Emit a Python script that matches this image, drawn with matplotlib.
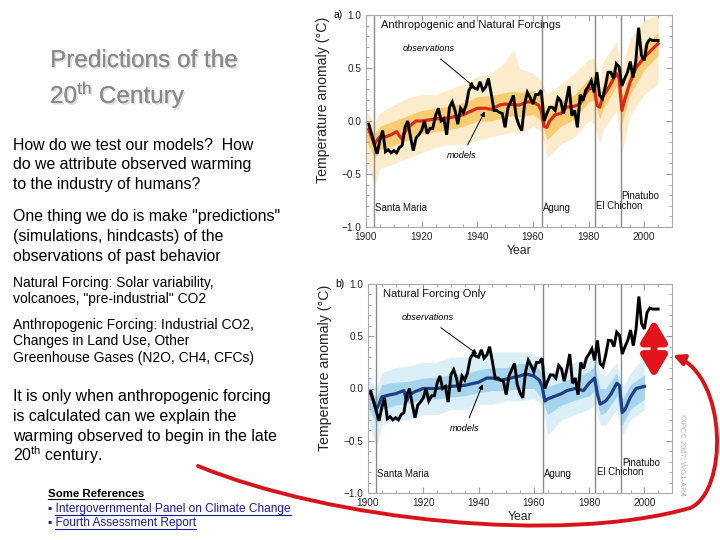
import matplotlib
matplotlib.use("Agg")
import matplotlib.pyplot as plt
import matplotlib.patheffects as pe
from matplotlib.patches import FancyArrowPatch
from matplotlib.path import Path
from matplotlib.ticker import MultipleLocator

plt.rcParams['font.family'] = ['Liberation Sans', 'DejaVu Sans']
plt.rcParams['mathtext.fontset'] = 'custom'
plt.rcParams['mathtext.rm'] = 'Liberation Sans'
plt.rcParams['mathtext.it'] = 'Liberation Sans:italic'

# ---------------- data ----------------
obs_years = list(range(1901, 2006))
obs_vals = [-0.03, -0.12, -0.22, -0.31, -0.18, -0.09, -0.29, -0.27, -0.30, -0.28,
            -0.30, -0.25, -0.23, -0.06, 0.00, -0.15, -0.28, -0.16, -0.13, -0.09,
            0.00, -0.12, -0.07, -0.07, 0.05, 0.12, 0.00, 0.02, -0.13, 0.13,
            0.18, 0.10, -0.03, 0.12, 0.08, 0.15, 0.29, 0.33, 0.31, 0.30,
            0.37, 0.29, 0.32, 0.40, 0.26, 0.10, 0.10, 0.08, 0.07, -0.06,
            0.12, 0.18, 0.24, 0.04, -0.04, -0.09, 0.16, 0.27, 0.22, 0.16,
            0.25, 0.25, 0.29, 0.00, 0.07, 0.13, 0.13, 0.10, 0.22, 0.19,
            0.07, 0.19, 0.33, 0.05, 0.10, -0.06, 0.25, 0.19, 0.29, 0.33,
            0.38, 0.27, 0.46, 0.24, 0.21, 0.32, 0.46, 0.46, 0.40, 0.54,
            0.51, 0.33, 0.40, 0.46, 0.56, 0.41, 0.57, 0.88, 0.62, 0.57,
            0.73, 0.77, 0.76, 0.76, 0.76]

mean_a_years = [1901, 1902, 1903, 1904, 1905, 1907, 1909, 1911, 1912, 1913, 1914, 1916,
                1918, 1920, 1925, 1930, 1935, 1940, 1943, 1945, 1948, 1950, 1955, 1958,
                1960, 1962, 1963, 1964, 1965, 1966, 1968, 1970, 1972, 1975, 1977, 1978,
                1980, 1982, 1983, 1984, 1985, 1988, 1990, 1991, 1992, 1993, 1995, 1997,
                2000, 2003, 2005]
mean_a_vals = [-0.08, -0.15, -0.22, -0.18, -0.15, -0.15, -0.13, -0.10, -0.14, -0.17, -0.10,
               -0.04, 0.00, 0.00, 0.02, 0.03, 0.06, 0.12, 0.12, 0.11, 0.15, 0.16, 0.15,
               0.18, 0.18, 0.15, 0.10, -0.05, -0.06, 0.00, 0.06, 0.07, 0.13, 0.14, 0.16,
               0.22, 0.30, 0.32, 0.15, 0.13, 0.22, 0.35, 0.45, 0.40, 0.10, 0.20, 0.37,
               0.50, 0.60, 0.68, 0.73]

band_a_years = [1900, 1903, 1905, 1910, 1915, 1920, 1925, 1930, 1935, 1940, 1945, 1950,
                1953, 1955, 1960, 1963, 1965, 1970, 1975, 1980, 1982, 1984, 1985, 1990,
                1992, 1995, 2000, 2005]
band_a_hi = [0.10, -0.02, 0.08, 0.15, 0.22, 0.25, 0.25, 0.30, 0.35, 0.42, 0.45, 0.55,
             0.68, 0.50, 0.45, 0.38, 0.25, 0.35, 0.45, 0.58, 0.60, 0.40, 0.55, 0.75,
             0.50, 0.78, 0.95, 1.00]
band_a_lo = [-0.35, -0.62, -0.45, -0.40, -0.35, -0.30, -0.25, -0.22, -0.22, -0.18, -0.15,
             -0.12, -0.10, -0.12, -0.05, -0.10, -0.35, -0.22, -0.15, 0.00, -0.02, -0.22,
             -0.10, 0.10, -0.30, 0.05, 0.25, 0.35]
core_a_hi = [0.00, -0.12, -0.05, 0.00, 0.05, 0.10, 0.12, 0.14, 0.17, 0.23, 0.24, 0.27,
             0.28, 0.27, 0.29, 0.24, 0.08, 0.18, 0.25, 0.40, 0.43, 0.26, 0.33, 0.55,
             0.25, 0.48, 0.72, 0.83]
core_a_lo = [-0.18, -0.35, -0.27, -0.23, -0.18, -0.12, -0.10, -0.08, -0.05, 0.00, 0.00,
             0.04, 0.05, 0.04, 0.06, 0.00, -0.18, -0.05, 0.02, 0.18, 0.20, 0.02, 0.10,
             0.33, -0.02, 0.25, 0.48, 0.62]

mean_b_years = [1901, 1902, 1903, 1904, 1905, 1908, 1910, 1913, 1914, 1915, 1917, 1920,
                1925, 1930, 1935, 1940, 1943, 1945, 1948, 1950, 1955, 1957, 1960, 1962,
                1963, 1964, 1965, 1967, 1970, 1972, 1975, 1978, 1980, 1982, 1983, 1984,
                1986, 1988, 1990, 1991, 1992, 1993, 1995, 1997, 2000]
mean_b_vals = [-0.05, -0.12, -0.20, -0.15, -0.08, -0.06, -0.05, -0.02, -0.12, -0.06, -0.03,
               0.00, 0.00, 0.02, 0.03, 0.06, 0.10, 0.10, 0.08, 0.09, 0.12, 0.14, 0.12,
               0.08, 0.02, -0.12, -0.10, -0.08, -0.05, -0.02, 0.00, -0.02, 0.05, 0.10,
               -0.05, -0.15, -0.12, -0.05, 0.05, 0.03, -0.23, -0.20, -0.08, 0.00, 0.02]

band_b_years = [1900, 1903, 1905, 1910, 1915, 1920, 1925, 1930, 1935, 1940, 1945, 1950,
                1955, 1960, 1963, 1965, 1970, 1975, 1980, 1982, 1984, 1986, 1990, 1992,
                1995, 2000]
band_b_hi = [0.10, 0.00, 0.15, 0.20, 0.22, 0.25, 0.25, 0.30, 0.30, 0.35, 0.35, 0.35,
             0.35, 0.33, 0.28, 0.15, 0.20, 0.25, 0.30, 0.35, 0.15, 0.12, 0.25, 0.00,
             0.15, 0.30]
band_b_lo = [-0.30, -0.55, -0.35, -0.30, -0.30, -0.25, -0.25, -0.20, -0.20, -0.15, -0.15,
             -0.12, -0.12, -0.10, -0.15, -0.45, -0.30, -0.25, -0.20, -0.15, -0.35, -0.35,
             -0.20, -0.45, -0.30, -0.20]
core_b_hi = [0.00, -0.08, 0.04, 0.06, 0.07, 0.10, 0.11, 0.13, 0.14, 0.18, 0.20, 0.20,
             0.24, 0.24, 0.15, 0.02, 0.06, 0.11, 0.16, 0.22, 0.00, 0.00, 0.15, -0.10,
             0.04, 0.13]
core_b_lo = [-0.18, -0.33, -0.20, -0.16, -0.14, -0.10, -0.10, -0.08, -0.07, -0.04, -0.02,
             -0.02, 0.00, 0.00, -0.10, -0.25, -0.16, -0.11, -0.07, -0.02, -0.25, -0.23,
             -0.07, -0.35, -0.20, -0.10]

volcano_names = ["Santa Maria", "Agung", "El Chichon", "Pinatubo"]
volcano_years = [1902.8, 1963.3, 1982.3, 1991.5]
volcano_label_y = [-0.82, -0.82, -0.80, -0.71]

W, H = 720, 540
fig = plt.figure(figsize=(7.2, 5.4), dpi=100)


def fx(x):
    return x / W


def fy(y):
    return 1 - y / H


# ---------------- left-hand text ----------------
shadow = [pe.withSimplePatchShadow(offset=(1.2, -1.2), shadow_rgbFace='#dddddd', alpha=1.0),
          pe.Normal()]
fig.text(fx(50), fy(61), "Predictions of the", fontsize=17.5, color='#8a8a8a',
         va='center', ha='left', path_effects=shadow)
fig.text(fx(50), fy(95), r"20$^{\mathrm{th}}$ Century", fontsize=17.5, color='#8a8a8a',
         va='center', ha='left', path_effects=shadow)

body = [
    (145, "How do we test our models?  How", 11.4),
    (164, "do we attribute observed warming", 11.4),
    (184, "to the industry of humans?", 11.4),
    (217, "One thing we do is make \"predictions\"", 11.4),
    (237, "(simulations, hindcasts) of the", 11.4),
    (256, "observations of past behavior", 11.4),
    (283, "Natural Forcing: Solar variability,", 10.0),
    (299, "volcanoes, \"pre-industrial\" CO2", 10.0),
    (325, "Anthropogenic Forcing: Industrial CO2,", 10.0),
    (341, "Changes in Land Use, Other", 10.0),
    (358, "Greenhouse Gases (N2O, CH4, CFCs)", 10.0),
    (397, "It is only when anthropogenic forcing", 11.45),
    (416, "is calculated can we explain the", 11.45),
    (436, "warming observed to begin in the late", 11.45),
    (455, r"20$^{\mathrm{th}}$ century.", 11.45),
]
for y, s, fs in body:
    fig.text(fx(13), fy(y), s, fontsize=fs, color='black', va='center', ha='left')

ref_texts = []
ref_texts.append((fig.text(fx(48), fy(494), "Some References", fontsize=8.2, fontweight='bold',
                           color='black', va='center', ha='left'), 'black', False))
ref_texts.append((fig.text(fx(48), fy(509), "\u25aa Intergovernmental Panel on Climate Change",
                           fontsize=8.6, color='#1a1aa0', va='center', ha='left'), '#1a1aa0', True))
ref_texts.append((fig.text(fx(48), fy(523), "\u25aa Fourth Assessment Report",
                           fontsize=8.6, color='#1a1aa0', va='center', ha='left'), '#1a1aa0', True))

fig.text(fx(682), fy(455), "\u00a9IPCC 2007: WG1-AR4", fontsize=5.5, color='#b0b0b0',
         rotation=-90, va='center', ha='center')


# ---------------- panels ----------------
def panel(rect, label, title, band_years, hi, lo, chi, clo, mean_years, mean_vals,
          outer_col, inner_col, mean_col, obs_pos, obs_xy, mod_pos, mod_xy):
    ax = fig.add_axes(rect)
    ax.fill_between(band_years, lo, hi, color=outer_col, lw=0, zorder=1)
    ax.fill_between(band_years, clo, chi, color=inner_col, lw=0, zorder=1.2)
    for vy, name, ly in zip(volcano_years, volcano_names, volcano_label_y):
        ax.axvline(vy, color='#8a8a8a', lw=1.0, zorder=1.5)
        ax.text(vy + 0.4, ly, name, fontsize=6.9, va='center', ha='left', color='#111111')
    ax.plot(mean_years, mean_vals, color=mean_col, lw=2.3, zorder=3, solid_joinstyle='round')
    ax.plot(obs_years, obs_vals, color='black', lw=2.1, zorder=4, solid_joinstyle='miter')
    ax.set_xlim(1900, 2010)
    ax.set_ylim(-1.0, 1.0)
    ax.xaxis.set_major_locator(MultipleLocator(20))
    ax.xaxis.set_minor_locator(MultipleLocator(5))
    ax.yaxis.set_major_locator(MultipleLocator(0.5))
    ax.yaxis.set_minor_locator(MultipleLocator(0.1))
    ax.yaxis.set_major_formatter(matplotlib.ticker.FuncFormatter(
        lambda v, p: ("%.1f" % v).replace('-', '\u2212')))
    ax.tick_params(which='both', direction='in', top=True, right=True, colors='#999999',
                   labelcolor='#222222', labelsize=7.2)
    ax.tick_params(which='major', length=4)
    ax.tick_params(which='minor', length=2.5)
    for s in ax.spines.values():
        s.set_color('#aaaaaa')
        s.set_linewidth(0.8)
    ax.set_xlabel("Year", fontsize=8.8, labelpad=2, color='#222222')
    ax.set_ylabel("Temperature anomaly (\u00b0C)", fontsize=10.2, color='#222222')
    ax.yaxis.set_label_coords(-0.117, 0.6)
    ax.text(-0.077, 1.0, label, transform=ax.transAxes, fontsize=7.5, va='center', ha='right')
    ax.text(1905.4, 0.905, title, fontsize=8.0, va='center', ha='left', color='#111111')
    ax.annotate("observations", xy=obs_xy, xytext=obs_pos, fontsize=6.6, style='italic',
                ha='center', va='center',
                arrowprops=dict(arrowstyle='-|>', color='black', lw=0.7,
                                mutation_scale=7, shrinkA=3, shrinkB=0))
    ax.annotate("models", xy=mod_xy, xytext=mod_pos, fontsize=6.6, style='italic',
                ha='center', va='center',
                arrowprops=dict(arrowstyle='-|>', color='black', lw=0.7,
                                mutation_scale=7, shrinkA=3, shrinkB=0))
    return ax


ax_a = panel([fx(366), fy(227), (672 - 366) / W, (227 - 15) / H], "a)",
             "Anthropogenic and Natural Forcings",
             band_a_years, band_a_hi, band_a_lo, core_a_hi, core_a_lo,
             mean_a_years, mean_a_vals, '#fdeccb', '#f8cc72', '#d9281c',
             (1922.5, 0.68), (1939.0, 0.32), (1934.5, -0.33), (1942.7, 0.09))

ax_b = panel([fx(368), fy(493), (672 - 368) / W, (493 - 284) / H], "b)",
             "Natural Forcing Only",
             band_b_years, band_b_hi, band_b_lo, core_b_hi, core_b_lo,
             mean_b_years, mean_b_vals, '#dbeff8', '#a6d4ec', '#1f3f80',
             (1921.5, 0.675), (1939.5, 0.33), (1935.0, -0.385), (1941.5, 0.04))

# double-headed red arrow (gap between obs and natural-only models)
ax_b.annotate("", xy=(2003.5, 0.10), xytext=(2003.5, 0.66),
              arrowprops=dict(arrowstyle='<|-|>,head_length=0.75,head_width=0.45',
                              color='#e3141b', lw=5,
                              mutation_scale=17, shrinkA=0, shrinkB=0),
              zorder=6, annotation_clip=False)

# big curved red arrow across the slide
pts = [(198, 466), (330, 520), (560, 545), (690, 508),
       (728, 492), (728, 378), (673, 355)]
codes = [Path.MOVETO, Path.CURVE4, Path.CURVE4, Path.CURVE4,
         Path.CURVE4, Path.CURVE4, Path.CURVE4]
path = Path([(fx(x), fy(y)) for x, y in pts], codes)
arr = FancyArrowPatch(path=path, arrowstyle='-|>', color='#d8141b', lw=2.8,
                      mutation_scale=16, transform=fig.transFigure, zorder=10)
fig.patches.append(arr)

# underlines for references
fig.canvas.draw()
rend = fig.canvas.get_renderer()
for t, col, is_link in ref_texts:
    bb = t.get_window_extent(rend)
    yline = bb.y0 + 0.5
    start = bb.x0 + (7 if is_link else 0)
    fig.add_artist(plt.Line2D([start / W, bb.x1 / W], [yline / H, yline / H],
                              color=col, lw=0.8, transform=fig.transFigure))

fig.savefig("out.png", dpi=100, facecolor='white')
